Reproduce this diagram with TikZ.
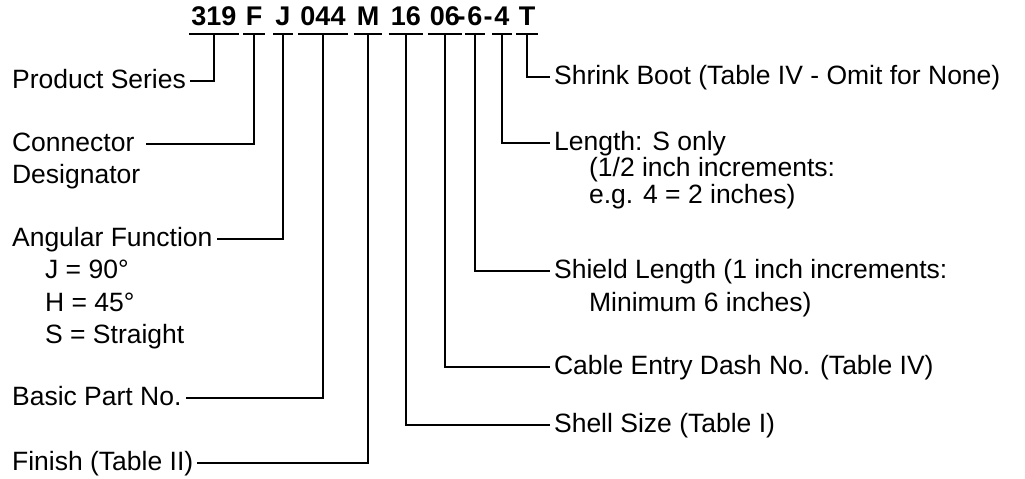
\documentclass[tikz,border=0pt]{standalone}
\usepackage{fontspec}
\setmainfont{Liberation Sans}
\usepackage{tikz}

\begin{document}
\begin{tikzpicture}[x=0.5pt,y=-0.5pt,line width=1.1pt,
    code/.style={font=\fontsize{13.5pt}{15pt}\selectfont\bfseries,anchor=base,
      inner xsep=0.6pt,inner ysep=4pt,text height=10pt,text depth=0pt},
    lbl/.style={font=\fontsize{13.25pt}{16pt}\selectfont,inner sep=1.5pt,
      text height=9pt,text depth=2pt},
    more/.style={font=\fontsize{13.25pt}{16pt}\selectfont,inner sep=1.5pt,anchor=base west}]
  \useasboundingbox (0,0) rectangle (1025,478);
  % part number
  \node[code] (c319) at (214,25) {319};
  \node[code] (cF) at (254,25) {F};
  \node[code] (cJ) at (283,25) {J};
  \node[code] (c044) at (323,25) {044};
  \node[code] (cM) at (368,25) {M};
  \node[code] (c16) at (406,25) {16};
  \node[code] (c06) at (445,25) {06};
  \node[code] (h1) at (461,25) {-};
  \node[code] (c6) at (475,25) {6};
  \node[code] (h2) at (488,25) {-};
  \node[code] (c4) at (502,25) {4};
  \node[code] (cT) at (527,25) {T};
  % left labels
  \node[lbl,anchor=west] (ps) at (8,81) {Product Series};
  \node[lbl,anchor=west] (cd) at (8,144) {Connector\kern4pt};
  \node[more] (cd2) at (8,183) {Designator};
  \node[lbl,anchor=west] (af) at (8,239) {Angular Function};
  \node[more] (af1) at (41,278) {J = 90°};
  \node[more] (af2) at (41,311) {H = 45°};
  \node[more] (af3) at (41,343) {S = Straight};
  \node[lbl,anchor=west] (bp) at (8,398) {Basic Part No.};
  \node[lbl,anchor=west] (fi) at (8,463) {Finish (Table II)};
  % right labels
  \node[lbl,anchor=west] (sb) at (550,77) {Shrink Boot (Table IV - Omit for None)};
  \node[lbl,anchor=west] (ln) at (550,143) {Length: S only};
  \node[more,inner ysep=0pt,align=left,font=\fontsize{13.25pt}{11.5pt}\selectfont] (ln1)
     at (585,203) {(1/2 inch increments:\\e.g. 4 = 2 inches)};
  \node[lbl,anchor=west] (sl) at (550,271) {Shield Length (1 inch increments:};
  \node[more] (sl1) at (585,311) {Minimum 6 inches)};
  \node[lbl,anchor=west] (ce) at (550,367) {Cable Entry Dash No. (Table IV)};
  \node[lbl,anchor=west] (ss) at (550,425) {Shell Size (Table I)};
  % bars and leaders
  \foreach \c in {c319,cF,cJ,c044,cM,c16,c06,c6,c4,cT}
     \draw (\c.south west) -- (\c.south east);
  \foreach \c/\l in {c319/ps,cF/cd,cJ/af,c044/bp,cM/fi}
     \draw (\c.south) |- (\l.east);
  \foreach \c/\l in {c16/ss,c06/ce,c6/sl,c4/ln,cT/sb}
     \draw (\c.south) |- (\l.west);
\end{tikzpicture}
\end{document}
